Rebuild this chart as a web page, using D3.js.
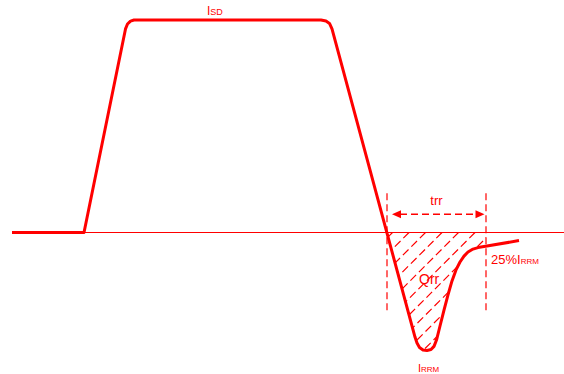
<!DOCTYPE html>
<html>
<head>
<meta charset="utf-8">
<script src="https://cdn.jsdelivr.net/npm/d3@7"></script>
<style>
  body { margin: 0; background: #fff; }
  svg { display: block; }
  text { font-family: "Liberation Sans", Arial, sans-serif; fill: #ff0000; }
</style>
</head>
<body>
<div id="vis"></div>
<script>
const FRAME_WIDTH = 564;
const FRAME_HEIGHT = 374;
const RED = "#ff0000";

// diode current waveform: time (arbitrary units) and current (% of ISD)
const waveT = [0, 72, 113.5, 115.5, 118.5, 122, 309, 314, 317.5, 320, 403, 405, 407.5, 411,
               415, 419, 422, 424.5, 428, 432, 436, 440, 444, 448, 452, 456, 461, 466, 472, 507];
const waveI = [0, 0, 95.8, 98.1, 99.5, 100, 100, 99.5, 98.4, 95.8, -49.2, -52, -54.1, -55.3,
               -55.5, -55.1, -53.6, -50.6, -44, -36.5, -29.4, -22.8, -17.6, -13.9, -11.1, -9.2, -7.8, -7.1, -6.6, -3.8];

// reverse recovery time window
const trrStart = 375;
const trrEnd = 474;
const markerTop = 18.5;     // top of dashed trr markers
const markerBottom = -37.4; // bottom of dashed trr markers
const arrowLevel = 8.6;

const X_SCALE = d3.scaleLinear().domain([0, 552]).range([12, 564]);
const Y_SCALE = d3.scaleLinear().domain([0, 100]).range([232.5, 20]);

const wave = waveT.map((t, i) => ({t: t, i: waveI[i]}));

const FRAME = d3.select("#vis")
  .append("svg")
    .attr("width", FRAME_WIDTH)
    .attr("height", FRAME_HEIGHT);

const defs = FRAME.append("defs");

// hatch region = area under zero, inside trr window
defs.append("clipPath").attr("id", "qrrArea")
  .append("path")
    .attr("d", d3.area()
      .x(d => X_SCALE(d.t))
      .y0(Y_SCALE(0))
      .y1(d => Y_SCALE(d.i))(wave.filter(d => d.t >= 300)));
defs.append("clipPath").attr("id", "qrrWindow")
  .append("rect")
    .attr("x", X_SCALE(trrStart))
    .attr("y", Y_SCALE(0))
    .attr("width", X_SCALE(trrEnd) - X_SCALE(trrStart))
    .attr("height", FRAME_HEIGHT);

// zero line
FRAME.append("line")
  .attr("x1", X_SCALE(0)).attr("x2", FRAME_WIDTH)
  .attr("y1", Y_SCALE(0)).attr("y2", Y_SCALE(0))
  .attr("stroke", RED).attr("stroke-width", 1.2);

// hatching (Qrr)
const hatch = FRAME.append("g").attr("clip-path", "url(#qrrWindow)")
  .append("g").attr("clip-path", "url(#qrrArea)");
const y0 = Y_SCALE(0);
hatch.selectAll("line")
  .data(d3.range(0, 14))
  .enter()
  .append("line")
    .attr("x1", k => X_SCALE(trrStart) + 5.5 + k * 16.5)
    .attr("y1", y0)
    .attr("x2", k => X_SCALE(trrStart) + 5.5 + k * 16.5 - 140)
    .attr("y2", y0 + 140)
    .attr("stroke", RED)
    .attr("stroke-width", 1.2)
    .attr("stroke-dasharray", "8,4");

// dashed trr markers
FRAME.selectAll(".marker")
  .data([trrStart, trrEnd])
  .enter()
  .append("line")
    .attr("class", "marker")
    .attr("x1", d => X_SCALE(d)).attr("x2", d => X_SCALE(d))
    .attr("y1", Y_SCALE(markerTop)).attr("y2", Y_SCALE(markerBottom))
    .attr("stroke", RED).attr("stroke-width", 1.2)
    .attr("stroke-dasharray", "7,4");

// trr arrow
const ay = Y_SCALE(arrowLevel);
const ax1 = X_SCALE(trrStart) + 5, ax2 = X_SCALE(trrEnd) - 1.5;
FRAME.append("line")
  .attr("x1", ax1 + 8).attr("x2", ax2 - 8)
  .attr("y1", ay).attr("y2", ay)
  .attr("stroke", RED).attr("stroke-width", 1.5)
  .attr("stroke-dasharray", "7,4");
FRAME.append("path")
  .attr("d", `M${ax1},${ay}L${ax1 + 9},${ay - 4}L${ax1 + 9},${ay + 4}Z`)
  .attr("fill", RED);
FRAME.append("path")
  .attr("d", `M${ax2},${ay}L${ax2 - 9},${ay - 4}L${ax2 - 9},${ay + 4}Z`)
  .attr("fill", RED);

// waveform
FRAME.append("path")
  .datum(wave)
  .attr("d", d3.line().x(d => X_SCALE(d.t)).y(d => Y_SCALE(d.i)))
  .attr("fill", "none")
  .attr("stroke", RED)
  .attr("stroke-width", 3)
  .attr("stroke-linejoin", "round");

// labels
function label(x, y, main, sub, size, subSize, anchor) {
  const t = FRAME.append("text")
    .attr("x", x).attr("y", y)
    .attr("text-anchor", anchor || "start")
    .attr("font-size", size);
  t.append("tspan").text(main);
  if (sub) t.append("tspan").attr("font-size", subSize).text(sub);
}

label(X_SCALE(195), Y_SCALE(100) - 5, "I", "SD", 12, 9);
label(X_SCALE((trrStart + trrEnd) / 2), ay - 9, "trr", null, 13, null, "middle");
label(X_SCALE(407), Y_SCALE(-24), "Qrr", null, 14);
label(X_SCALE(trrEnd) + 5, Y_SCALE(-14.8), "25%I", "RRM", 13, 8);
label(X_SCALE(406), FRAME_HEIGHT - 2, "I", "RRM", 11, 8);
</script>
</body>
</html>
